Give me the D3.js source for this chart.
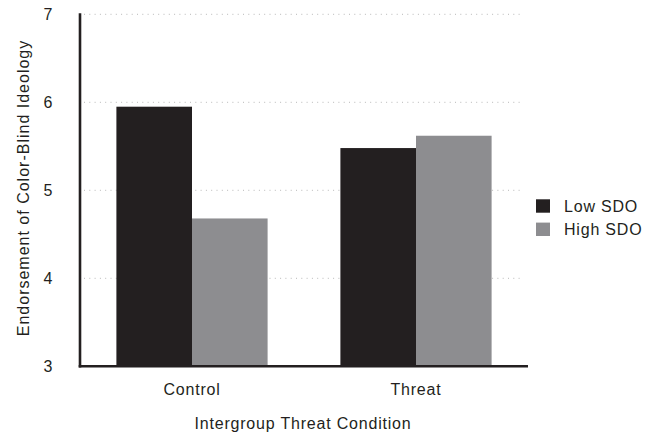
<!DOCTYPE html>
<html><head><meta charset="utf-8">
<script src="https://cdn.jsdelivr.net/npm/d3@7"></script>
<style>
body{margin:0;background:#fff;}
text{font-family:"Liberation Sans",Arial,Helvetica,sans-serif;fill:#231f20;}
</style></head>
<body><svg id="c" width="654" height="434"></svg>
<script>
const categories = ["Control", "Threat"];
const seriesNames = ["Low SDO", "High SDO"];
const lowSDO = [5.95, 5.48];
const highSDO = [4.68, 5.62];
const yTicks = [3, 4, 5, 6, 7];
const colors = ["#231f20", "#8d8d90"];
const yTitle = "Endorsement of Color-Blind Ideology";
const xTitle = "Intergroup Threat Condition";

const svg = d3.select("#c");
const mLeft = 80, mRight = 528, mTop = 14.3, mBottom = 366.3;
const x = d3.scaleBand().domain(categories).range([mLeft, mRight]).paddingInner(0.325).paddingOuter(0.1625);
const xs = d3.scaleBand().domain(seriesNames).range([0, x.bandwidth()]);
const y = d3.scaleLinear().domain([3, 7]).range([mBottom, mTop]);
const series = [lowSDO, highSDO];

// gridlines
svg.append("g").selectAll("line").data(yTicks.filter(d => d > 3)).join("line")
  .attr("x1", mLeft + 4).attr("x2", 521)
  .attr("y1", d => y(d)).attr("y2", d => y(d))
  .attr("stroke", "#b8b8b8").attr("stroke-width", 1).attr("stroke-dasharray", "1,4.3");

// bars
const g = svg.append("g");
categories.forEach((c, i) => {
  series.forEach((s, j) => {
    g.append("rect")
      .attr("x", x(c) + xs(seriesNames[j]))
      .attr("width", xs.bandwidth())
      .attr("y", y(s[i]))
      .attr("height", y(3) - y(s[i]))
      .attr("fill", colors[j]);
  });
});

// axes lines
svg.append("line").attr("x1", mLeft).attr("x2", mLeft).attr("y1", mTop - 1).attr("y2", mBottom + 1.2)
  .attr("stroke", "#231f20").attr("stroke-width", 2.6);
svg.append("line").attr("x1", mLeft - 1.3).attr("x2", mRight).attr("y1", mBottom).attr("y2", mBottom)
  .attr("stroke", "#231f20").attr("stroke-width", 2.6);

// y tick labels
svg.append("g").selectAll("text").data(yTicks).join("text")
  .attr("x", 48).attr("y", d => y(d) + 6)
  .attr("text-anchor", "middle").attr("font-size", 16)
  .text(d => d);

// x tick labels
svg.append("g").selectAll("text").data(categories).join("text")
  .attr("x", d => x(d) + x.bandwidth() / 2).attr("y", 395)
  .attr("text-anchor", "middle").attr("font-size", 16).attr("letter-spacing", 0.8)
  .text(d => d);

// axis titles
svg.append("text").attr("x", 303).attr("y", 428.5)
  .attr("text-anchor", "middle").attr("font-size", 16).attr("letter-spacing", 0.8)
  .text(xTitle);
svg.append("text").attr("transform", "translate(29,188) rotate(-90)")
  .attr("text-anchor", "middle").attr("font-size", 16).attr("letter-spacing", 1)
  .text(yTitle);

// legend
const lg = svg.append("g");
seriesNames.forEach((n, j) => {
  lg.append("rect").attr("x", 536).attr("y", 199.3 + j * 23.3).attr("width", 14).attr("height", 13.4).attr("fill", colors[j]);
  lg.append("text").attr("x", 564).attr("y", 212 + j * 23.3).attr("font-size", 16).attr("letter-spacing", 0.8).text(n);
});
</script></body></html>
